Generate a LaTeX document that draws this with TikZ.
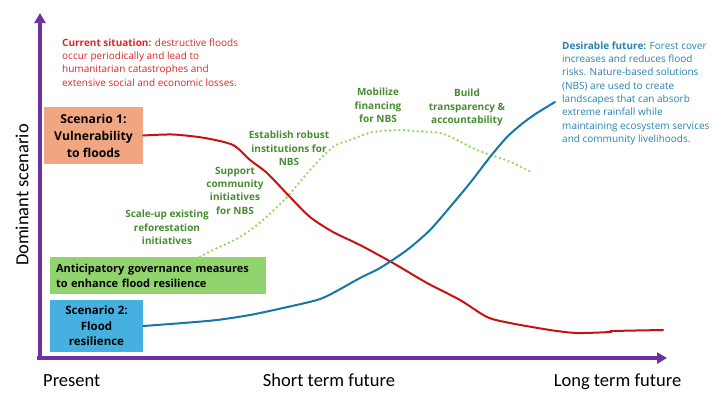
\documentclass[tikz,border=0pt]{standalone}
\usepackage{fontspec}
\setmainfont{Open Sans}
\newfontfamily\axisfont{Carlito}
\usetikzlibrary{arrows.meta}
\definecolor{axispurple}{RGB}{112,48,160}
\definecolor{floodred}{RGB}{200,18,18}
\definecolor{nowtext}{RGB}{218,38,38}
\definecolor{sconefill}{RGB}{241,166,130}
\definecolor{sctwofill}{RGB}{70,177,225}
\definecolor{govfill}{RGB}{145,212,110}
\definecolor{stepgreen}{RGB}{72,140,50}
\definecolor{dotgreen}{RGB}{146,214,90}
\definecolor{resblue}{RGB}{22,118,168}
\definecolor{futtext}{RGB}{40,130,175}
\begin{document}
\begin{tikzpicture}[x=1pt,y=-1pt,
  axis/.style={axispurple,line width=3.5pt,-{Triangle[length=10pt,width=11pt]}},
  axislabel/.style={font=\axisfont\fontsize{18.5}{20}\selectfont,inner sep=0pt},
  scbox/.style={inner sep=0pt,align=center,font=\bfseries\fontsize{12.2}{17}\selectfont},
  stepnote/.style={inner sep=0pt,anchor=north,align=center,text=stepgreen,font=\bfseries\fontsize{10}{13.2}\selectfont},
  story/.style={inner sep=0pt,anchor=north west,align=left,font=\fontsize{10}{13.3}\selectfont},
  curve/.style={line width=2pt,line join=round,line cap=round}]
\useasboundingbox (0,0) rectangle (727,392);

% axes
\coordinate (origin) at (40,358);
\coordinate (ytip) at (40,13);
\coordinate (xtip) at (667,358);
\draw[axis] ([yshift=2pt]origin) -- (ytip);
\draw[axis] ([xshift=-3pt]origin) -- (xtip);
\node[axislabel,rotate=90] (ylab) at (22,195) {Dominant scenario};
\node[axislabel,anchor=base west] (tnow) at (43,386.5) {Present};
\node[axislabel,anchor=base] (tshort) at (329,386.5) {Short term future};
\node[axislabel,anchor=base] (tlong) at (617.5,386.5) {Long term future};

% scenario boxes
\node[scbox,fill=sconefill,minimum width=99pt,minimum height=57pt] (s1) at (93.5,135.5)
  {Scenario 1:\\Vulnerability\\to floods};
\node[scbox,fill=sctwofill,minimum width=93pt,minimum height=52pt,font=\bfseries\fontsize{11.5}{15.5}\selectfont] (s2) at (96.5,326)
  {Scenario 2:\\Flood\\resilience};
\node[fill=govfill,text width=204pt,minimum height=37pt,inner xsep=6pt,align=left,
  font=\bfseries\fontsize{11}{15}\selectfont] (gov) at (158,275.5)
  {Anticipatory governance measures\\to enhance flood resilience};
\coordinate (dstart) at ([xshift=42pt]gov.north);

% text notes
\node[story,text=nowtext] (now) at (62,38.5)
  {\textbf{Current situation:} destructive floods\\occur periodically and lead to\\humanitarian catastrophes and\\extensive social and economic losses.};
\node[story,text=futtext] (fut) at (562,41.5)
  {\textbf{Desirable future:} Forest cover\\increases and reduces flood\\risks. Nature-based solutions\\(NBS) are used to create\\landscapes that can absorb\\extreme rainfall while\\maintaining ecosystem services\\and community livelihoods.};
\foreach \nm/\px/\py/\txt in {scale/167/210/{Scale-up existing\\reforestation\\initiatives},
  support/235/167/{Support\\community\\initiatives\\for NBS},
  establish/289/131/{Establish robust\\institutions for\\NBS},
  mobilize/378/88/{Mobilize\\financing\\for NBS},
  build/467/89/{Build\\transparency \&\\accountability}}
  {\node[stepnote] (\nm) at (\px,\py) {\txt};}

% pathways
\draw[dotgreen,line width=2.6pt,line cap=round,dash pattern=on 0pt off 4.6pt]
  plot[smooth,tension=0.5] coordinates {(dstart) (213,250) (240,237) (263,220) (287,197) (310,170)
  (333,147) (350,140) (373,132) (400,130) (413,131) (440,133) (457,140) (477,150) (497,157) (513,163) (533,173)};
\draw[curve,floodred] plot[smooth,tension=0.45] coordinates {(s1.east) (173,134.5) (205,138) (233,145)
  (250,160) (267,173) (290,197) (310,217) (333,232) (360,245) (393,263) (427,283) (460,300) (487,317)
  (510,323) (550,330) (577,333) (610,332) (613,331) (663,330)};
\draw[curve,resblue] plot[smooth,tension=0.45] coordinates {(s2.east) (183,323) (217,320) (250,315)
  (283,308) (317,300) (333,293) (360,278) (380,268) (407,250) (430,230) (450,207) (470,183)
  (490,157) (507,137) (523,123) (537,113) (555,102)};
\end{tikzpicture}
\end{document}
